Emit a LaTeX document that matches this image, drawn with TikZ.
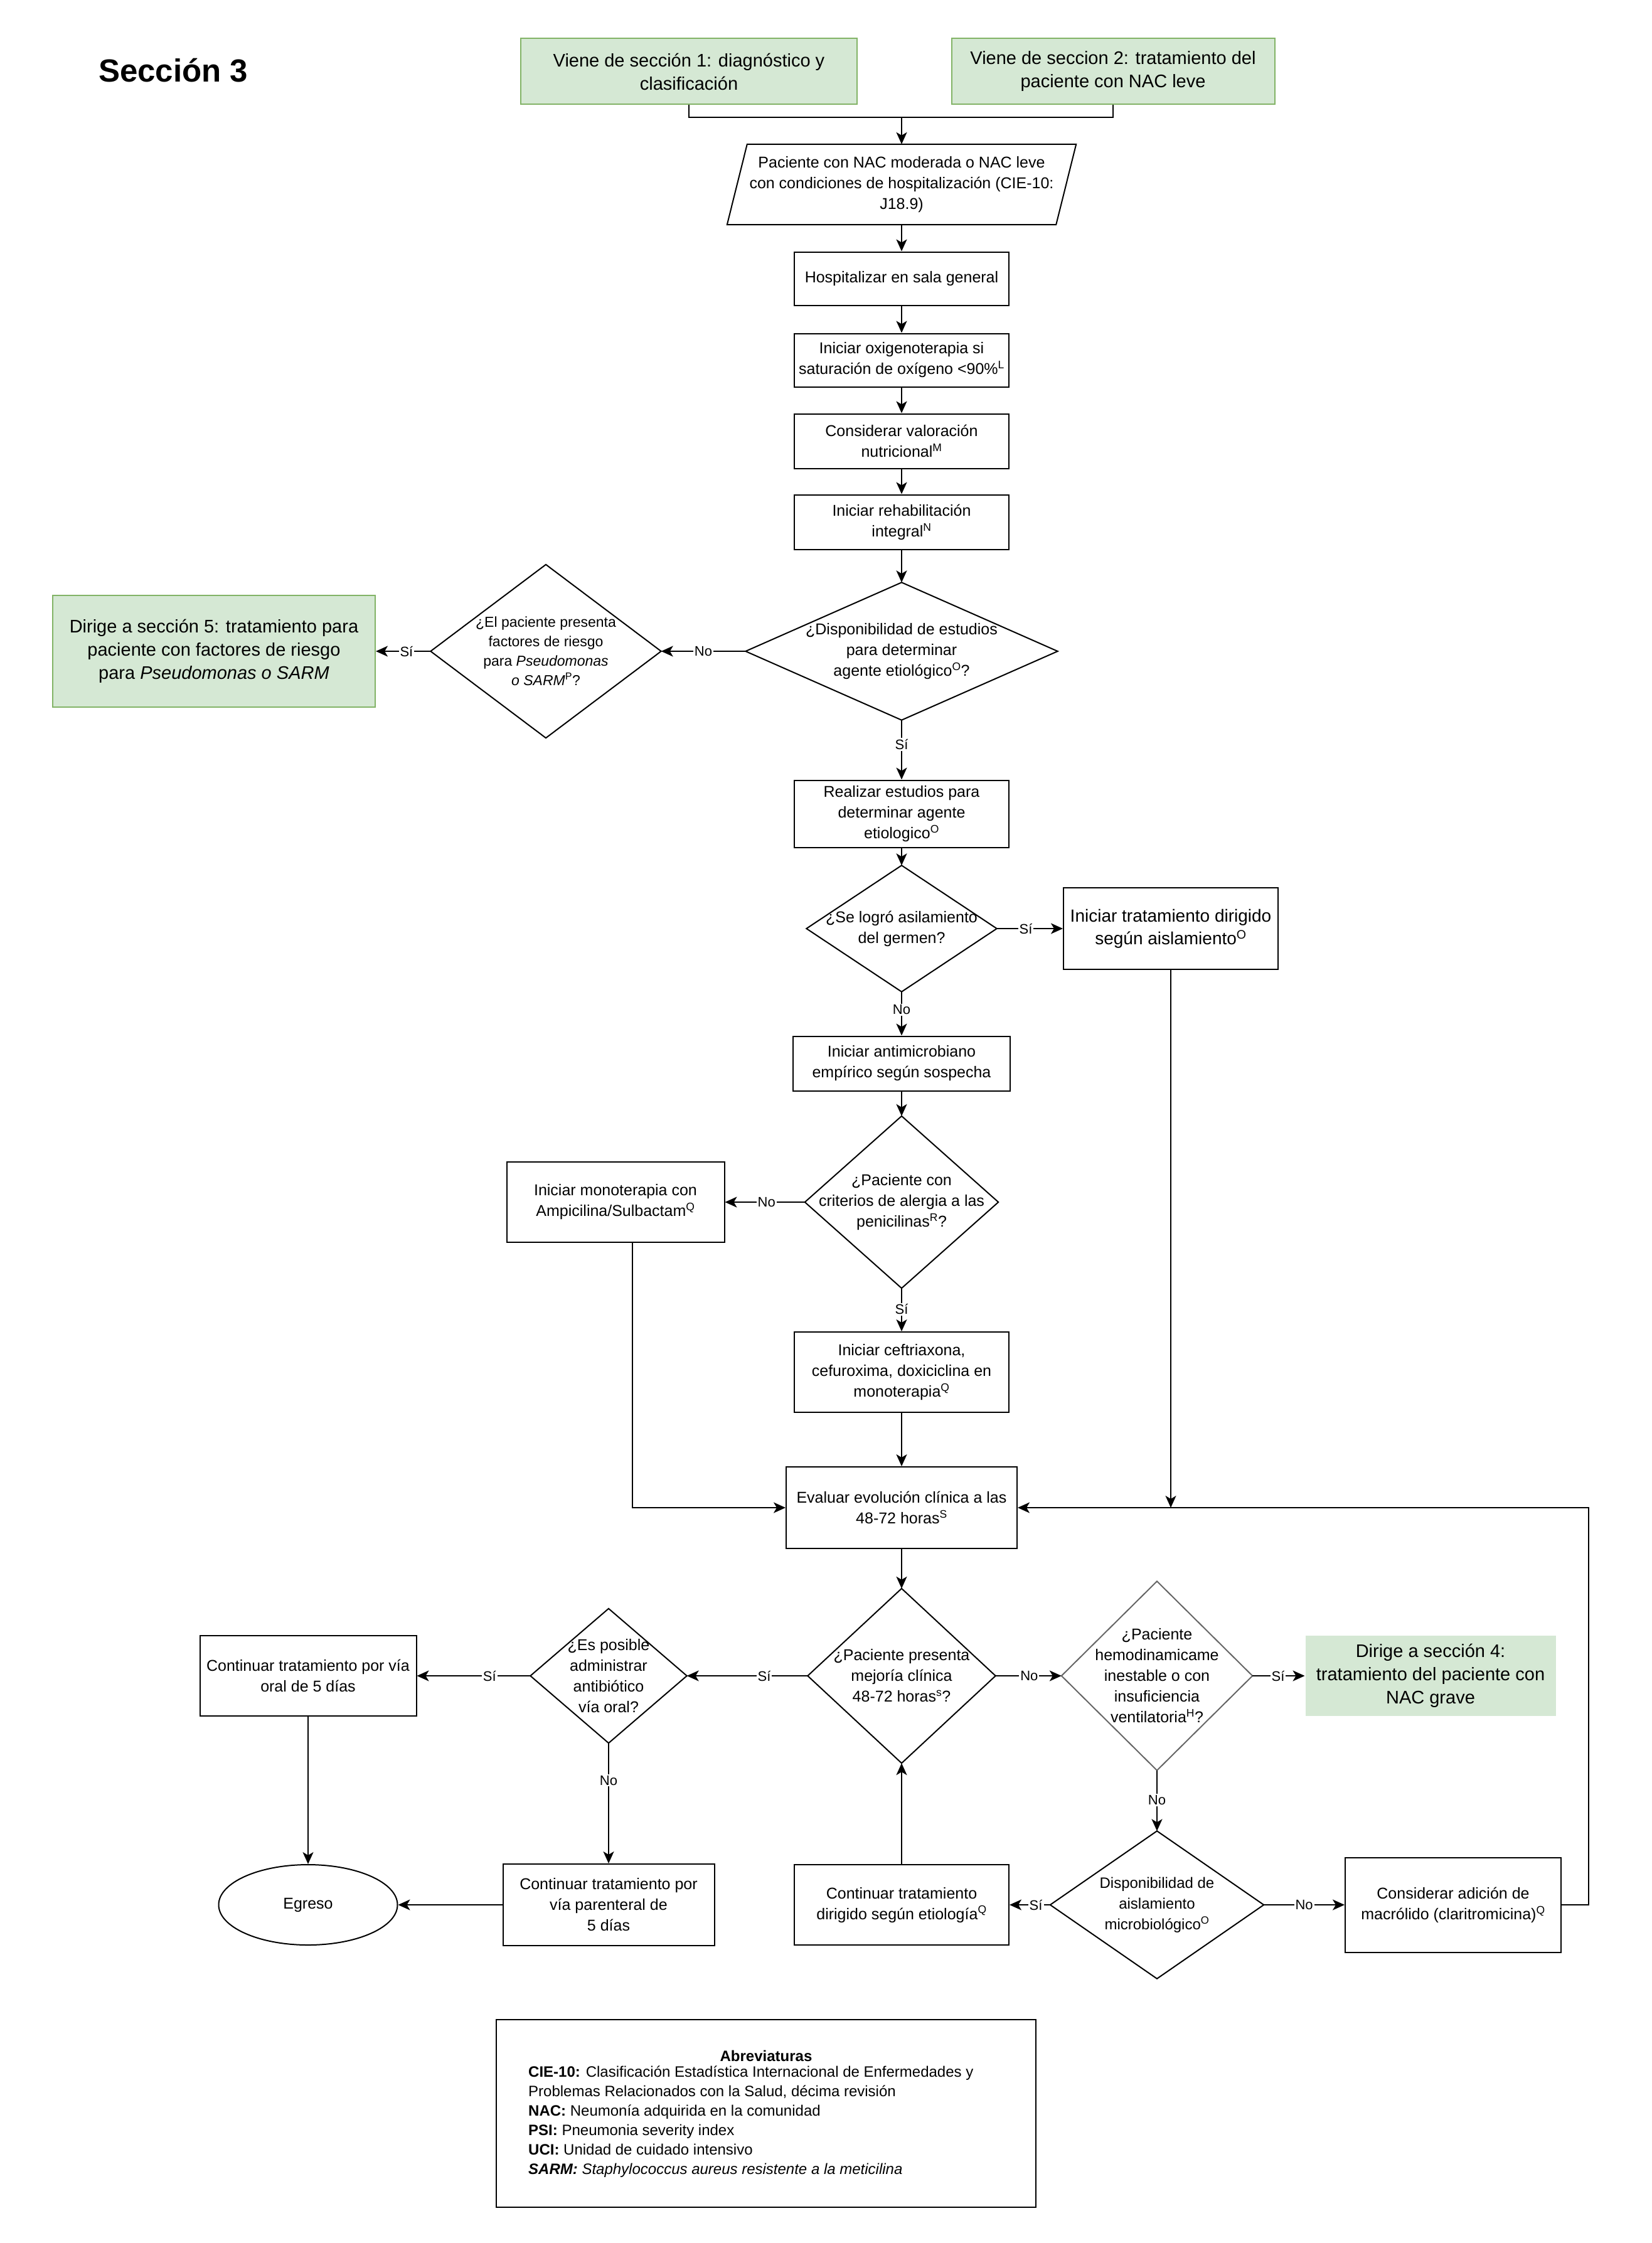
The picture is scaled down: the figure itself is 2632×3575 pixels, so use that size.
\documentclass[tikz,border=0pt]{standalone}
\usepackage{fontspec}
\setmainfont{Liberation Sans}
\usetikzlibrary{arrows.meta,shapes.geometric}
\definecolor{gfill}{HTML}{D5E8D4}
\definecolor{gline}{HTML}{82B366}
\definecolor{dgray}{HTML}{666666}
\tikzset{
  base/.style={align=center, inner sep=0pt, font=\fontsize{25}{33}\selectfont},
  box/.style={base, draw, line width=2pt},
  gbox/.style={base, draw=gline, fill=gfill, line width=2pt, font=\fontsize{29}{37}\selectfont},
  dia/.style={base},
  lbl/.style={fill=white, inner sep=2pt, font=\fontsize{22}{26}\selectfont},
  arr/.style={line width=2pt, -{Stealth[length=19pt,width=17pt,inset=5pt]}},
  ln/.style={line width=2pt},
}
\begin{document}
\begin{tikzpicture}[x=1pt,y=-1pt]
\useasboundingbox (0,0) rectangle (2632,3575);
\fill[white] (0,0) rectangle (2632,3575);

% title
\node[anchor=west, inner sep=0pt, font=\fontsize{51}{60}\selectfont\bfseries] (title) at (157,112) {Sección 3};

% top
\node[gbox, minimum width=536pt, minimum height=105pt] (g1) at (1098,114) {Viene de sección 1: diagnóstico y\\clasificación};
\node[gbox, minimum width=515pt, minimum height=105pt] (g2) at (1774,114) {Viene de seccion 2: tratamiento del\\paciente con NAC leve};
\coordinate (j) at (1437,187);

\node[base, minimum width=524pt, minimum height=128pt] (para) at (1437,294) {Paciente con NAC moderada o NAC leve\\con condiciones de hospitalización (CIE-10:\\J18.9)};
\draw[ln] ([xshift=16pt]para.north west) -- ([xshift=16pt]para.north east) -- ([xshift=-16pt]para.south east) -- ([xshift=-16pt]para.south west) -- cycle;

\node[box, minimum width=342pt, minimum height=85pt] (hosp) at (1437,444) {Hospitalizar en sala general};
\node[box, minimum width=342pt, minimum height=85pt] (oxi) at (1437,574) {Iniciar oxigenoterapia si\\saturación de oxígeno <90\%\textsuperscript{L}};
\node[box, minimum width=342pt, minimum height=87pt] (nutr) at (1437,703) {Considerar valoración\\nutricional\textsuperscript{M}};
\node[box, minimum width=342pt, minimum height=87pt] (rehab) at (1437,832) {Iniciar rehabilitación\\integral\textsuperscript{N}};

\node[dia, minimum width=497pt, minimum height=219pt] (d1) at (1437,1038) {¿Disponibilidad de estudios\\para determinar\\agente etiológico\textsuperscript{O}?};
\node[dia, minimum width=367pt, minimum height=276pt, font=\fontsize{23}{31}\selectfont] (d2) at (870,1038) {¿El paciente presenta\\factores de riesgo\\para \textit{Pseudomonas}\\\textit{o SARM}\textsuperscript{P}?};
\node[gbox, minimum width=514pt, minimum height=178pt] (g5) at (341,1038) {Dirige a sección 5: tratamiento para\\paciente con factores de riesgo\\para \textit{Pseudomonas  o SARM}};

\node[box, minimum width=342pt, minimum height=107pt] (real) at (1437,1297) {Realizar estudios para\\determinar agente\\etiologico\textsuperscript{O}};
\node[dia, minimum width=303pt, minimum height=201pt, font=\fontsize{25}{33}\selectfont] (d3) at (1437,1480) {¿Se logró asilamiento\\del germen?};
\node[box, minimum width=342pt, minimum height=130pt, font=\fontsize{28}{36}\selectfont] (dir) at (1866,1480) {Iniciar tratamiento dirigido\\según aislamiento\textsuperscript{O}};
\node[box, minimum width=346pt, minimum height=87pt] (anti) at (1437,1695) {Iniciar antimicrobiano\\empírico según sospecha};
\node[dia, minimum width=308pt, minimum height=274pt] (d4) at (1437,1916) {¿Paciente con\\criterios de alergia a las\\penicilinas\textsuperscript{R}?};
\node[box, minimum width=347pt, minimum height=128pt] (mono) at (981,1916) {Iniciar monoterapia con\\Ampicilina/Sulbactam\textsuperscript{Q}};
\node[box, minimum width=342pt, minimum height=128pt] (cef) at (1437,2187) {Iniciar ceftriaxona,\\cefuroxima, doxiciclina en\\monoterapia\textsuperscript{Q}};
\node[box, minimum width=368pt, minimum height=130pt] (eval) at (1437,2403) {Evaluar evolución clínica a las\\48-72 horas\textsuperscript{S}};
\coordinate (rr) at (2532,2403);

\node[dia, minimum width=299pt, minimum height=278pt] (d5) at (1437,2671) {¿Paciente presenta\\mejoría clínica\\48-72 horas\textsuperscript{s}?};
\node[dia, minimum width=304pt, minimum height=301pt] (d6) at (1844,2671) {¿Paciente\\hemodinamicame\\inestable o con\\insuficiencia\\ventilatoria\textsuperscript{H}?};
\node[gbox, draw=none, minimum width=399pt, minimum height=128pt] (g4) at (2280,2671) {Dirige a sección 4:\\tratamiento del paciente con\\NAC grave};
\node[dia, minimum width=249pt, minimum height=214pt] (d7) at (970,2671) {¿Es posible\\administrar\\antibiótico\\vía oral?};
\node[box, minimum width=345pt, minimum height=128pt] (oral) at (491,2671) {Continuar tratamiento por vía\\oral de 5 días};
\node[base, draw, line width=2pt, ellipse, minimum width=285pt, minimum height=128pt] (egreso) at (491,3036) {Egreso};
\node[box, minimum width=337pt, minimum height=130pt] (par) at (970,3036) {Continuar tratamiento por\\vía parenteral de\\5 días};
\node[box, minimum width=342pt, minimum height=128pt] (etio) at (1437,3036) {Continuar tratamiento\\dirigido según etiología\textsuperscript{Q}};
\node[dia, minimum width=340pt, minimum height=235pt, font=\fontsize{24}{33}\selectfont] (d8) at (1844,3036) {Disponibilidad de\\aislamiento\\microbiológico\textsuperscript{O}};
\node[box, minimum width=344pt, minimum height=151pt] (adic) at (2316,3036) {Considerar adición de\\macrólido (claritromicina)\textsuperscript{Q}};

% diamonds outlines
\foreach \n in {d1,d2,d3,d4,d5,d7,d8}
  \draw[ln] (\n.north) -- (\n.east) -- (\n.south) -- (\n.west) -- cycle;
\draw[ln, draw=dgray] (d6.north) -- (d6.east) -- (d6.south) -- (d6.west) -- cycle;

% abbreviations
\node[draw, line width=2pt, minimum width=860pt, minimum height=299pt, inner sep=0pt] (abbr) at (1221,3368) {};
\node[inner sep=0pt, font=\fontsize{24}{31}\selectfont\bfseries] (abbrt) at (1221,3277) {Abreviaturas};
\node[anchor=north west, inner sep=0pt, align=left, font=\fontsize{24}{31}\selectfont] (abbrb) at (842,3293) {\textbf{CIE-10:} Clasificación Estadística Internacional de Enfermedades y\\Problemas Relacionados con la Salud, décima revisión\\\textbf{NAC:} Neumonía adquirida en la comunidad\\\textbf{PSI:} Pneumonia severity index\\\textbf{UCI:} Unidad de cuidado intensivo\\\textbf{\textit{SARM:}} \textit{Staphylococcus aureus resistente a la meticilina}};

% connectors
\draw[ln] (g1.south) |- (j) -| (g2.south);
\draw[arr] (j) -- (para.north);
\draw[arr] (para.south) -- (hosp.north);
\draw[arr] (hosp) -- (oxi);
\draw[arr] (oxi) -- (nutr);
\draw[arr] (nutr) -- (rehab);
\draw[arr] (rehab) -- (d1.north);
\draw[arr] (d1.west) -- node[lbl,pos=0.5]{No} (d2.east);
\draw[arr] (d2.west) -- node[lbl,pos=0.44]{Sí} (g5.east);
\draw[arr] (d1.south) -- node[lbl,pos=0.41]{Sí} (real.north);
\draw[arr] (real.south) -- (d3.north);
\draw[arr] (d3.east) -- node[lbl,pos=0.44]{Sí} (dir.west);
\draw[arr] (d3.south) -- node[lbl,pos=0.41]{No} (anti.north);
\draw[arr] (anti.south) -- (d4.north);
\draw[arr] (d4.west) -- node[lbl,pos=0.48]{No} (mono.east);
\draw[arr] (d4.south) -- node[lbl,pos=0.49]{Sí} (cef.north);
\draw[arr] (cef.south) -- (eval.north);
\draw[arr] ([xshift=27pt]mono.south) |- (eval.west);
\draw[arr] (dir.south) -- (dir.south |- eval.east);
\draw[arr] (adic.east) -| (rr) -- (eval.east);
\draw[arr] (eval.south) -- (d5.north);
\draw[arr] (d5.east) -- node[lbl,pos=0.51]{No} (d6.west);
\draw[arr] (d6.east) -- node[lbl,pos=0.49]{Sí} (g4.west);
\draw[arr] (d6.south) -- node[lbl,pos=0.49]{No} (d8.north);
\draw[arr] (d8.west) -- node[lbl,pos=0.35]{Sí} (etio.east);
\draw[arr] (d8.east) -- node[lbl,pos=0.5]{No} (adic.west);
\draw[arr] (etio.north) -- (d5.south);
\draw[arr] (d5.west) -- node[lbl,pos=0.36]{Sí} (d7.east);
\draw[arr] (d7.west) -- node[lbl,pos=0.36]{Sí} (oral.east);
\draw[arr] (d7.south) -- node[lbl,pos=0.31]{No} (par.north);
\draw[arr] (oral.south) -- (egreso.north);
\draw[arr] (par.west) -- (egreso.east);
\end{tikzpicture}
\end{document}
